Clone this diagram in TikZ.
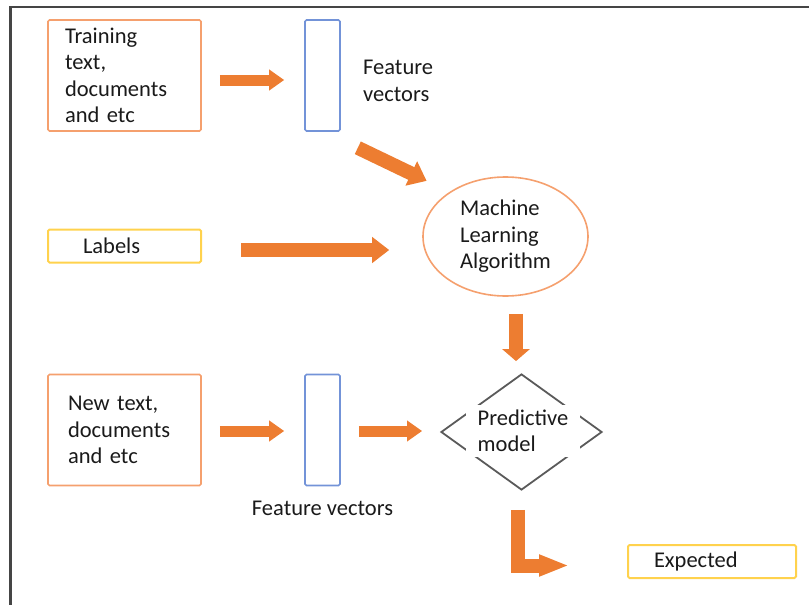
\documentclass[tikz,border=0pt]{standalone}
\usepackage{fontspec}
\setmainfont{Carlito}
\usetikzlibrary{arrows.meta,shapes.geometric}

\definecolor{arroworange}{HTML}{ED7D31}
\definecolor{boxorange}{HTML}{F5A06E}
\definecolor{boxblue}{HTML}{7393D8}
\definecolor{boxyellow}{HTML}{FFD24D}
\definecolor{diagray}{HTML}{5A5A5A}
\definecolor{framegray}{HTML}{454545}
\definecolor{txtcol}{HTML}{1A1A1A}

\tikzset{
  every node/.style={font=\fontsize{22.5}{26.5}\selectfont, text=txtcol},
  databox/.style={draw=boxorange, line width=1.6pt, rounded corners=1.5pt,
    minimum width=153pt, minimum height=111pt, align=left},
  labelbox/.style={draw=boxyellow, line width=2pt, rounded corners=1.5pt,
    minimum height=33pt, align=left, inner ysep=0pt},
  vecbox/.style={draw=boxblue, line width=1.6pt, rounded corners=1.5pt,
    minimum width=35pt, minimum height=111pt, inner sep=0pt},
  algo/.style={ellipse, draw=boxorange, line width=1.6pt,
    minimum width=165pt, minimum height=119pt, inner sep=0pt, align=left},
  model/.style={diamond, draw=diagray, line width=1.8pt,
    minimum width=161pt, minimum height=116pt, inner sep=0pt},
  modeltext/.style={fill=white, align=left, inner xsep=12pt, inner ysep=5pt},
  fat/.style={draw=arroworange, line width=#1, line cap=butt},
  fat/.default=11pt,
}

\begin{document}
\begin{tikzpicture}[x=1pt, y=-1pt]
  \useasboundingbox (0,0) rectangle (809,605);

  % outer frame (top and left edges)
  \draw[framegray, line width=2.6pt] (10.5,605) -- (10.5,7) -- (809,7);

  % training branch
  \node[databox, text width=119pt, inner xsep=17pt] (train) at (124.5,75.5)
    {Training\\text,\\documents\\and etc};
  \node[vecbox] (fv1) at (322.5,75.5) {};
  \node[anchor=west, align=left, inner sep=0pt] (fv1lab) at (363,81)
    {Feature\\vectors};

  % labels
  \node[labelbox, minimum width=153pt, text width=83pt, inner xsep=35pt]
    (labels) at (124.5,246) {Labels};

  % learning algorithm
  \node[algo] (ml) at (505.5,236.5) {Machine\\Learning\\Algorithm};

  % prediction branch
  \node[databox, text width=113pt, inner xsep=20pt] (new) at (124.5,430)
    {New text,\\documents\\and etc};
  \node[vecbox] (fv2) at (322.5,430) {};
  \node[inner sep=0pt] (fv2lab) at ([shift={(0,22)}]fv2.south) {Feature vectors};
  \node[model] (pred) at (521.5,432) {};
  \node[modeltext] (predlab) at (523,431) {Predictive\\model};

  % result
  \node[labelbox, minimum width=168pt, text width=116pt, inner xsep=26pt]
    (expected) at (712,561.5) {Expected};

  % block arrows
  \draw[fat, -{Triangle[length=15pt, width=20pt]}]
    ([shift={(18,4.5)}]train.east) -- ([shift={(-20,4.5)}]fv1.west);
  \draw[fat=14pt, -{Triangle[length=17pt, width=26pt]}]
    ([shift={(17,16)}]fv1.south east) -- ([shift={(-20,-13)}]ml.north west);
  \draw[fat=14pt, -{Triangle[length=17pt, width=25pt]}]
    ([shift={(39,4)}]labels.east) -- ([shift={(-33,13.5)}]ml.west);
  \draw[fat=14pt, -{Triangle[length=12pt, width=27pt]}]
    ([shift={(10.5,17)}]ml.south) -- ([shift={(-5.5,-12)}]pred.north);
  \draw[fat, -{Triangle[length=15pt, width=20pt]}]
    ([shift={(18,1)}]new.east) -- ([shift={(-20,1)}]fv2.west);
  \draw[fat, -{Triangle[length=15pt, width=20pt]}]
    ([shift={(18,1)}]fv2.east) -- ([shift={(-18,-1)}]pred.west);
  \draw[fat=14pt, line join=miter, -{Triangle[length=30pt, width=20pt]}]
    ([shift={(-3.5,19)}]pred.south) |- ([shift={(-58,4)}]expected.west);
\end{tikzpicture}
\end{document}
